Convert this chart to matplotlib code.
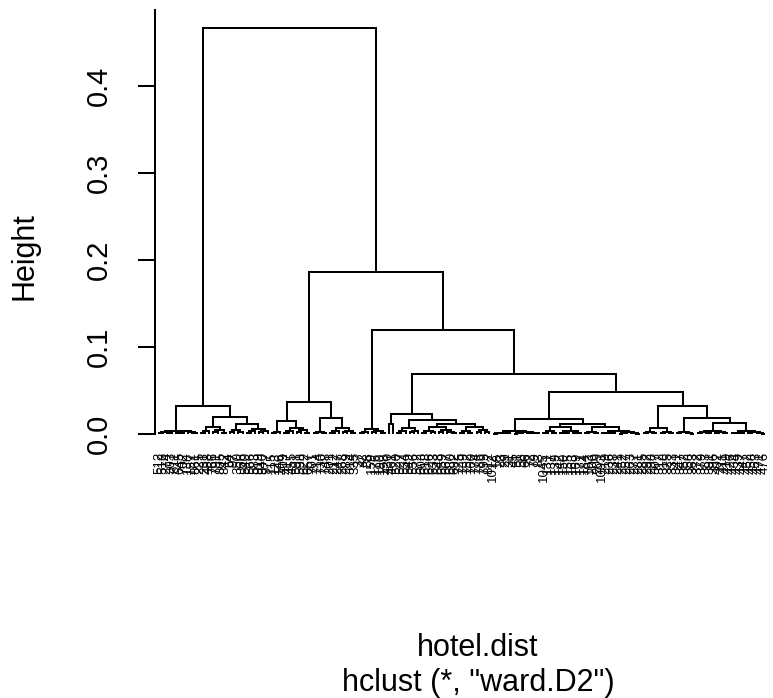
import matplotlib
matplotlib.use("Agg")
import matplotlib.pyplot as plt
from matplotlib.transforms import offset_copy

plt.rcParams['font.family'] = ['Liberation Sans', 'DejaVu Sans']


def m(h, a, b):
    return (h, a, b)


# ---------------- data: merge tree (height, left, right); leaves are row labels
A1 = m(0.004, m(0.0022, m(0.001, 512, 518), m(0.0013, 274, 303)),
       m(0.003, m(0.0016, m(0.0009, 611, 645), 702), m(0.0021, 138, m(0.0011, 157, 861))))
A2a = m(0.008, m(0.0035, m(0.0015, 225, 231), 488),
        m(0.0042, m(0.002, 766, 791), m(0.0012, 805, 842)))
A2b = m(0.011, m(0.0045, m(0.002, 64, 97), m(0.0025, 350, 366)),
        m(0.006, m(0.003, m(0.0014, 540, 566), 583), m(0.0036, m(0.0018, 919, 940), 977)))
A = m(0.032, A1, m(0.0195, A2a, A2b))

B1a = m(0.002, m(0.001, 115, 123), 146)
B1b = m(0.007, m(0.003, m(0.0015, 409, 417), 455),
        m(0.0042, m(0.002, 591, 598), m(0.001, 622, 657)))
B2a = m(0.0025, m(0.001, 701, 714), m(0.0015, 730, 748))
B2b = m(0.007, m(0.0035, m(0.0015, 201, 212), 247),
        m(0.004, m(0.0022, 268, 289), m(0.0012, 314, 335)))
B = m(0.037, m(0.015, B1a, B1b), m(0.018, B2a, B2b))

C = m(0.006, m(0.0028, m(0.0012, 37, 42), 88),
      m(0.0034, m(0.0018, 159, 176), m(0.001, 190, 198)))

D1 = m(0.012, 430, 461)
D2a = m(0.007, m(0.003, m(0.0012, 520, 527), 534), m(0.0038, m(0.002, 549, 556), 572))
D2b1 = m(0.008, m(0.0035, m(0.0015, 603, 618), m(0.002, 626, 633)),
         m(0.0045, m(0.0022, 648, 659), m(0.0028, 667, m(0.0012, 680, 692))))
D2b2 = m(0.008, m(0.0034, m(0.0016, 725, 739), m(0.0014, 752, 760)),
         m(0.0045, m(0.0025, 774, 786), m(0.002, 799, 812)))
D = m(0.023, D1, m(0.016, D2a, m(0.012, D2b1, D2b2)))

E1 = m(0.003, m(0.0016, m(0.0008, m(0.0004, 1012, 18), 23), m(0.0009, 29, 31)),
       m(0.002, m(0.001, m(0.0005, 45, 51), 58), m(0.0012, m(0.0006, 66, 72), m(0.0007, 79, 83))))
E2a = m(0.008, m(0.003, m(0.0012, 1045, 131), m(0.0015, 137, 139)),
        m(0.0035, m(0.0016, 142, m(0.0007, 150, 155)), m(0.0012, m(0.0006, 163, 169), 171)))
E2b = m(0.008, m(0.0025, m(0.001, 184, 193), m(0.0013, 206, 209)),
        m(0.0035, m(0.0015, m(0.0007, 1093, 219), m(0.0009, 236, 238)),
          m(0.002, m(0.001, m(0.0005, 241, 252), 257), m(0.0008, 263, m(0.0004, 277, 281)))))
E = m(0.017, E1, m(0.012, E2a, E2b))

F1 = m(0.007, m(0.002, m(0.001, 285, 292), m(0.0012, 298, 307)),
       m(0.0025, m(0.0011, 312, 318), m(0.0013, 325, 333)))
F2a = m(0.002, m(0.001, 341, 347), m(0.0012, 352, m(0.0005, 358, 363)))
F2b1 = m(0.004, m(0.002, m(0.001, 372, 379), m(0.0009, 383, 391)),
         m(0.0022, m(0.0011, 396, 402), m(0.0008, 411, 419)))
F2b2 = m(0.003, m(0.0015, m(0.0007, 426, 434), m(0.0008, 439, 447)),
         m(0.0018, m(0.0009, 452, 458), m(0.001, 463, m(0.0004, 471, 476))))
F = m(0.032, F1, m(0.018, F2a, m(0.013, F2b1, F2b2)))

tree = m(0.467, A, m(0.186, B, m(0.120, C, m(0.069, D, m(0.048, E, F)))))

ytick_values = [0.0, 0.1, 0.2, 0.3, 0.4]
ytick_labels = ["0.0", "0.1", "0.2", "0.3", "0.4"]
ylabel = "Height"
xlabel = "hotel.dist"
subtitle = 'hclust (*, "ward.D2")'

# ---------------- layout of the dendrogram
segments = []
leaves = []


def walk(node):
    if isinstance(node, tuple):
        h, a, b = node
        xa, ha = walk(a)
        xb, hb = walk(b)
        segments.append(([xa, xa, xb, xb], [ha, h, h, hb]))
        return (xa + xb) / 2.0, h
    x = len(leaves)
    leaves.append(str(node))
    return float(x), 0.0


walk(tree)
n = len(leaves)

W, H = 773, 698
fig = plt.figure(figsize=(W / 100, H / 100), dpi=100)
ax_left, ax_right, ax_bottom, ax_top = 155, 773, 434, 10
ax = fig.add_axes([ax_left / W, 1 - ax_bottom / H, (ax_right - ax_left) / W, (ax_bottom - ax_top) / H])

first_px, last_px = 159, 765
s = (last_px - first_px) / (n - 1)
ax.set_xlim(-(first_px - ax_left) / s, (n - 1) + (ax_right - last_px) / s)
ax.set_ylim(0, (ax_bottom - ax_top) / 870.0)

for xs, ys in segments:
    ax.plot(xs, ys, color='black', lw=1.45, solid_joinstyle='miter', solid_capstyle='butt', clip_on=False)

lab_tr = offset_copy(ax.transData, x=0, y=-18, units='dots')
for i, lab in enumerate(leaves):
    ax.text(i, 0, lab, transform=lab_tr, rotation=90, rotation_mode='anchor',
            ha='right', va='center', fontsize=9.5, color='black', clip_on=False)

for sp in ['top', 'right', 'bottom']:
    ax.spines[sp].set_visible(False)
ax.spines['left'].set_linewidth(1.45)
ax.set_xticks([])
ax.set_yticks(ytick_values)
ax.set_yticklabels([])
ax.tick_params(axis='y', direction='out', length=12.5, width=1.45)

tick_tr = offset_copy(ax.get_yaxis_transform(), x=-48, y=0, units='dots')
for v, t in zip(ytick_values, ytick_labels):
    ax.text(0, v, t, transform=tick_tr, rotation=90, rotation_mode='anchor',
            ha='center', va='baseline', fontsize=21, color='black')

fig.text(33 / W, 1 - 256 / H, ylabel, rotation=90, rotation_mode='anchor',
         ha='center', va='baseline', fontsize=22, color='black')
fig.text(478 / W, 1 - 656 / H, xlabel, ha='center', va='baseline', fontsize=22, color='black')
fig.text(478 / W, 1 - 691 / H, subtitle, ha='center', va='baseline', fontsize=22, color='black')

fig.savefig('out.png', dpi=100, facecolor='white')
